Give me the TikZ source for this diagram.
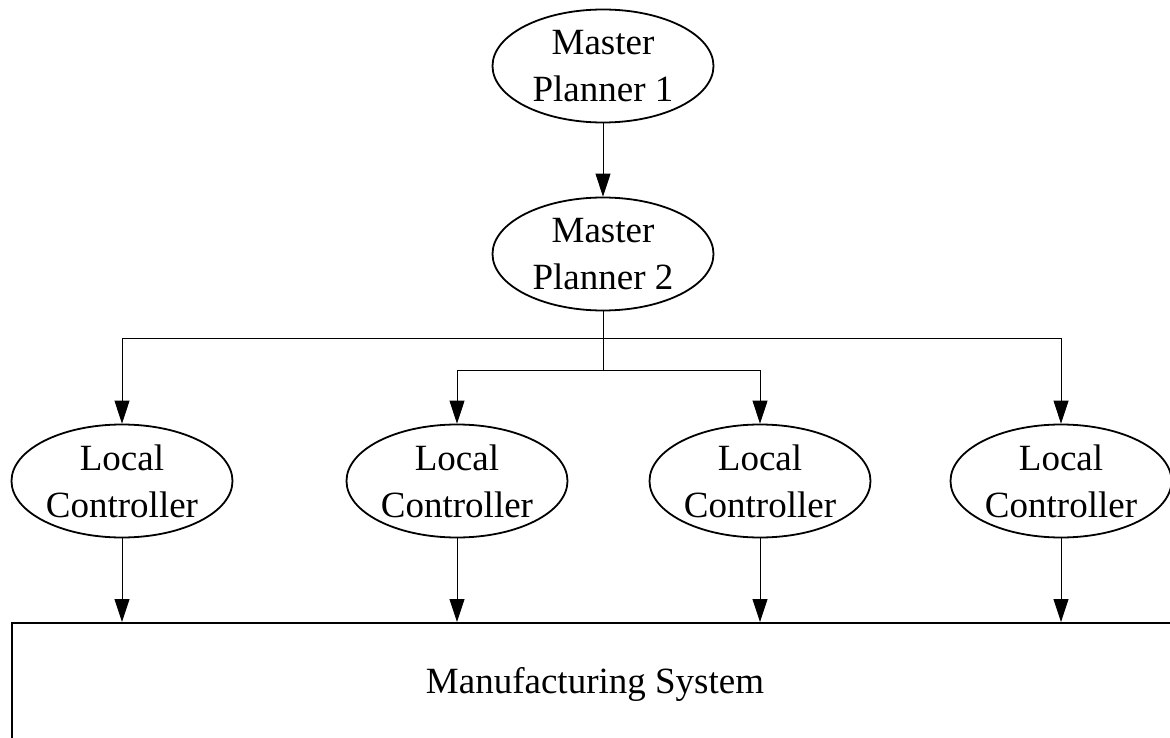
\documentclass[tikz,border=0pt]{standalone}
\usepackage{fontspec}
\setmainfont{Liberation Serif}
\usetikzlibrary{shapes.geometric,arrows.meta}
\begin{document}
\begin{tikzpicture}[x=1pt,y=-1pt,
  unit/.style={ellipse,draw,line width=1.8pt,inner sep=0pt,
    minimum width=221pt,minimum height=113pt,align=center,
    font=\fontsize{37}{47}\selectfont},
  link/.style={line width=0.9pt,-{Triangle[length=23pt,width=15pt]}}]
\useasboundingbox (0,0) rectangle (1170,738);
\clip (0,0) rectangle (1170,738);
% planners
\node[unit] (mp1) at (603,66)  {Master\\Planner 1};
\node[unit] (mp2) at (603,254) {Master\\Planner 2};
% local controllers
\node[unit] (lc1) at (122,481)  {Local\\Controller};
\node[unit] (lc2) at (457,481)  {Local\\Controller};
\node[unit] (lc3) at (760,481)  {Local\\Controller};
\node[unit] (lc4) at (1061,481) {Local\\Controller};
% plant, running past the right and bottom edges
\node[draw,line width=1.8pt,anchor=north west,minimum width=1200pt,
  minimum height=160pt,inner sep=0pt] (ms) at (11,622) {};
\node[font=\fontsize{37}{47}\selectfont] (mslabel) at (595,684) {Manufacturing System};
% connections
\draw[link] (mp1.south) -- (mp2.north);
\coordinate (j1) at (mp2.south |- 0,338);
\coordinate (j2) at (mp2.south |- 0,370);
\draw[line width=0.9pt] (mp2.south) -- (j2);
\draw[link] (j1) -| (lc1.north);
\draw[link] (j1) -| (lc4.north);
\draw[link] (j2) -| (lc2.north);
\draw[link] (j2) -| (lc3.north);
\foreach \n in {lc1,lc2,lc3,lc4}
  \draw[link] (\n.south) -- (\n.south |- ms.north);
\end{tikzpicture}
\end{document}
